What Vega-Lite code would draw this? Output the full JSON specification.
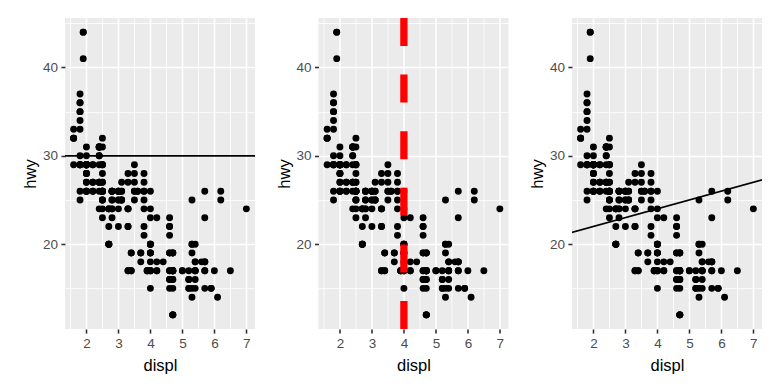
{
  "$schema": "https://vega.github.io/schema/vega-lite/v6.json",
  "background": "white",
  "padding": {"left": 22, "top": 14, "right": 18, "bottom": 5},
  "datasets": {
    "mpg": [
      {"displ":1.8,"hwy":29},{"displ":1.8,"hwy":29},{"displ":2,"hwy":31},{"displ":2,"hwy":30},{"displ":2.8,"hwy":26},{"displ":2.8,"hwy":26},{"displ":3.1,"hwy":27},{"displ":1.8,"hwy":26},{"displ":1.8,"hwy":25},{"displ":2,"hwy":28},{"displ":2,"hwy":27},{"displ":2.8,"hwy":25},{"displ":2.8,"hwy":25},{"displ":3.1,"hwy":25},{"displ":3.1,"hwy":25},{"displ":2.8,"hwy":24},{"displ":3.1,"hwy":25},{"displ":4.2,"hwy":23},
      {"displ":5.3,"hwy":20},{"displ":5.3,"hwy":15},{"displ":5.3,"hwy":20},{"displ":5.7,"hwy":17},{"displ":6,"hwy":17},{"displ":5.7,"hwy":26},{"displ":5.7,"hwy":23},{"displ":6.2,"hwy":26},{"displ":6.2,"hwy":25},{"displ":7,"hwy":24},{"displ":5.3,"hwy":19},{"displ":5.3,"hwy":14},{"displ":5.7,"hwy":15},{"displ":6.5,"hwy":17},{"displ":2.4,"hwy":27},{"displ":2.4,"hwy":30},{"displ":3.1,"hwy":26},{"displ":3.5,"hwy":29},{"displ":3.6,"hwy":26},
      {"displ":2.4,"hwy":24},{"displ":3,"hwy":24},{"displ":3.3,"hwy":22},{"displ":3.3,"hwy":22},{"displ":3.3,"hwy":24},{"displ":3.3,"hwy":24},{"displ":3.3,"hwy":24},{"displ":3.8,"hwy":22},{"displ":3.8,"hwy":21},{"displ":3.8,"hwy":24},{"displ":4,"hwy":23},{"displ":3.7,"hwy":19},{"displ":3.7,"hwy":18},{"displ":3.9,"hwy":17},{"displ":3.9,"hwy":17},{"displ":4.7,"hwy":19},{"displ":4.7,"hwy":19},{"displ":4.7,"hwy":12},{"displ":5.2,"hwy":17},{"displ":5.2,"hwy":15},{"displ":3.9,"hwy":17},{"displ":4.7,"hwy":17},{"displ":4.7,"hwy":12},{"displ":4.7,"hwy":17},{"displ":5.2,"hwy":16},{"displ":5.7,"hwy":18},{"displ":5.9,"hwy":15},{"displ":4.7,"hwy":17},{"displ":4.7,"hwy":16},{"displ":4.7,"hwy":16},{"displ":4.7,"hwy":12},{"displ":4.7,"hwy":17},{"displ":5.2,"hwy":15},{"displ":5.2,"hwy":16},{"displ":5.7,"hwy":17},{"displ":5.9,"hwy":15},
      {"displ":4.6,"hwy":17},{"displ":5.4,"hwy":17},{"displ":5.4,"hwy":18},{"displ":4,"hwy":17},{"displ":4,"hwy":19},{"displ":4,"hwy":17},{"displ":4,"hwy":19},{"displ":4.6,"hwy":19},{"displ":5,"hwy":17},{"displ":4.2,"hwy":17},{"displ":4.2,"hwy":17},{"displ":4.6,"hwy":16},{"displ":4.6,"hwy":16},{"displ":4.6,"hwy":17},{"displ":5.4,"hwy":15},{"displ":5.4,"hwy":17},{"displ":3.8,"hwy":26},{"displ":3.8,"hwy":25},{"displ":4,"hwy":26},{"displ":4,"hwy":24},{"displ":4.6,"hwy":21},{"displ":4.6,"hwy":22},{"displ":4.6,"hwy":23},{"displ":4.6,"hwy":22},{"displ":5.4,"hwy":20},
      {"displ":1.6,"hwy":33},{"displ":1.6,"hwy":32},{"displ":1.6,"hwy":32},{"displ":1.6,"hwy":29},{"displ":1.6,"hwy":32},{"displ":1.8,"hwy":34},{"displ":1.8,"hwy":36},{"displ":1.8,"hwy":36},{"displ":2,"hwy":29},
      {"displ":2.4,"hwy":26},{"displ":2.4,"hwy":27},{"displ":2.4,"hwy":30},{"displ":2.4,"hwy":31},{"displ":2.5,"hwy":26},{"displ":2.5,"hwy":26},{"displ":3.3,"hwy":28},{"displ":2,"hwy":26},{"displ":2,"hwy":29},{"displ":2,"hwy":28},{"displ":2,"hwy":27},{"displ":2.7,"hwy":24},{"displ":2.7,"hwy":24},{"displ":2.7,"hwy":24},
      {"displ":3,"hwy":22},{"displ":3.7,"hwy":19},{"displ":4,"hwy":20},{"displ":4.7,"hwy":17},{"displ":4.7,"hwy":12},{"displ":4.7,"hwy":19},{"displ":5.7,"hwy":18},{"displ":6.1,"hwy":14},
      {"displ":4,"hwy":15},{"displ":4.2,"hwy":18},{"displ":4.4,"hwy":18},{"displ":4.6,"hwy":15},
      {"displ":5.4,"hwy":17},{"displ":5.4,"hwy":16},{"displ":5.4,"hwy":18},
      {"displ":4,"hwy":17},{"displ":4,"hwy":19},{"displ":4.6,"hwy":19},{"displ":5,"hwy":17},
      {"displ":2.4,"hwy":29},{"displ":2.4,"hwy":27},{"displ":2.5,"hwy":31},{"displ":2.5,"hwy":32},{"displ":3.5,"hwy":27},{"displ":3.5,"hwy":26},{"displ":3.5,"hwy":26},{"displ":3,"hwy":25},{"displ":3,"hwy":25},{"displ":3.5,"hwy":25},{"displ":3.3,"hwy":17},{"displ":3.3,"hwy":17},{"displ":4,"hwy":20},{"displ":5.6,"hwy":18},
      {"displ":3.1,"hwy":26},{"displ":3.8,"hwy":26},{"displ":3.8,"hwy":27},{"displ":3.8,"hwy":28},{"displ":5.3,"hwy":25},
      {"displ":2.5,"hwy":25},{"displ":2.5,"hwy":24},{"displ":2.5,"hwy":27},{"displ":2.5,"hwy":25},{"displ":2.5,"hwy":26},{"displ":2.5,"hwy":23},{"displ":2.5,"hwy":26},{"displ":2.5,"hwy":26},{"displ":2.2,"hwy":26},{"displ":2.2,"hwy":26},{"displ":2.5,"hwy":26},{"displ":2.5,"hwy":26},{"displ":2.5,"hwy":27},{"displ":2.5,"hwy":25},
      {"displ":2.7,"hwy":20},{"displ":2.7,"hwy":20},{"displ":3.4,"hwy":19},{"displ":3.4,"hwy":17},{"displ":4,"hwy":20},{"displ":4.7,"hwy":17},{"displ":2.2,"hwy":29},{"displ":2.2,"hwy":27},{"displ":2.4,"hwy":31},{"displ":2.4,"hwy":31},{"displ":3,"hwy":26},{"displ":3,"hwy":26},{"displ":3.5,"hwy":28},{"displ":2.2,"hwy":27},{"displ":2.2,"hwy":29},{"displ":2.4,"hwy":31},{"displ":2.4,"hwy":31},{"displ":3,"hwy":26},{"displ":3,"hwy":26},{"displ":3.3,"hwy":27},{"displ":1.8,"hwy":30},{"displ":1.8,"hwy":33},{"displ":1.8,"hwy":35},{"displ":1.8,"hwy":37},{"displ":1.8,"hwy":35},{"displ":4.7,"hwy":15},{"displ":5.7,"hwy":18},{"displ":2.7,"hwy":20},{"displ":2.7,"hwy":20},{"displ":2.7,"hwy":22},{"displ":3.4,"hwy":17},{"displ":3.4,"hwy":19},{"displ":4,"hwy":18},{"displ":4,"hwy":20},
      {"displ":2,"hwy":29},{"displ":2,"hwy":26},{"displ":2,"hwy":29},{"displ":2,"hwy":29},{"displ":2.8,"hwy":24},{"displ":1.9,"hwy":44},{"displ":2,"hwy":29},{"displ":2,"hwy":26},{"displ":2,"hwy":29},{"displ":2,"hwy":29},{"displ":2.5,"hwy":29},{"displ":2.5,"hwy":29},{"displ":2.8,"hwy":23},{"displ":1.9,"hwy":44},{"displ":1.9,"hwy":41},{"displ":2,"hwy":29},{"displ":2,"hwy":26},{"displ":2.5,"hwy":28},{"displ":2.5,"hwy":29},{"displ":1.8,"hwy":29},{"displ":1.8,"hwy":29},{"displ":2,"hwy":28},{"displ":2,"hwy":29},{"displ":2.8,"hwy":26},{"displ":2.8,"hwy":26},{"displ":3.6,"hwy":26}
    ],
    "hline": [{"hwy": 30}],
    "vline": [{"displ": 4, "lo": 10.4, "hi": 45.6}],
    "abline": [{"x1": 1, "y1": 21, "x2": 8, "y2": 28}]
  },
  "config": {
    "view": {"fill": "#EBEBEB", "stroke": null},
    "font": "Liberation Sans",
    "axis": {
      "domain": false,
      "gridColor": "#FFFFFF",
      "tickColor": "#333333",
      "tickWidth": 1.6,
      "tickSize": 4.1,
      "labelColor": "#4D4D4D",
      "labelFont": "Liberation Sans",
      "labelFontSize": 13.5,
      "labelPadding": 3.3,
      "labelOverlap": false,
      "labelFlush": false,
      "titleFont": "Liberation Sans",
      "titleFontSize": 16.5,
      "titleFontWeight": "normal",
      "titleColor": "#000000"
    },
    "axisX": {"titlePadding": 8},
    "axisY": {"titlePadding": 4}
  },
  "hconcat": [
    {
      "width": 190, "height": 311,
      "layer": [
        {
          "data": {"name": "mpg"},
          "mark": {"type": "circle", "size": 48, "opacity": 1, "color": "#000000"},
          "encoding": {
            "x": {"field": "displ", "type": "quantitative", "title": "displ",
              "scale": {"domain": [1.33, 7.27], "nice": false, "zero": false},
              "axis": {"values": [1.5,2,2.5,3,3.5,4,4.5,5,5.5,6,6.5,7], "labelExpr": "datum.value % 1 === 0 ? format(datum.value, 'd') : ''",
                "gridWidth": {"condition": {"test": "datum.value % 1 === 0", "value": 1.6}, "value": 0.8},
                "tickOpacity": {"condition": {"test": "datum.value % 1 === 0", "value": 1}, "value": 0}}},
            "y": {"field": "hwy", "type": "quantitative", "title": "hwy",
              "scale": {"domain": [10.4, 45.6], "nice": false, "zero": false},
              "axis": {"values": [15,20,25,30,35,40,45], "labelExpr": "datum.value % 10 === 0 ? format(datum.value, 'd') : ''",
                "gridWidth": {"condition": {"test": "datum.value % 10 === 0", "value": 1.6}, "value": 0.8},
                "tickOpacity": {"condition": {"test": "datum.value % 10 === 0", "value": 1}, "value": 0}}}
          }
        },
        {
          "data": {"name": "hline"},
          "mark": {"type": "rule", "color": "#000000", "strokeWidth": 1.6},
          "encoding": {
            "y": {"field": "hwy", "type": "quantitative", "title": "hwy",
              "axis": {"values": [15,20,25,30,35,40,45], "labelExpr": "datum.value % 10 === 0 ? format(datum.value, 'd') : ''",
                "gridWidth": {"condition": {"test": "datum.value % 10 === 0", "value": 1.6}, "value": 0.8},
                "tickOpacity": {"condition": {"test": "datum.value % 10 === 0", "value": 1}, "value": 0}}}
          }
        }
      ]
    },
    {
      "width": 190, "height": 311,
      "layer": [
        {
          "data": {"name": "mpg"},
          "mark": {"type": "circle", "size": 48, "opacity": 1, "color": "#000000"},
          "encoding": {
            "x": {"field": "displ", "type": "quantitative", "title": "displ",
              "scale": {"domain": [1.33, 7.27], "nice": false, "zero": false},
              "axis": {"values": [1.5,2,2.5,3,3.5,4,4.5,5,5.5,6,6.5,7], "labelExpr": "datum.value % 1 === 0 ? format(datum.value, 'd') : ''",
                "gridWidth": {"condition": {"test": "datum.value % 1 === 0", "value": 1.6}, "value": 0.8},
                "tickOpacity": {"condition": {"test": "datum.value % 1 === 0", "value": 1}, "value": 0}}},
            "y": {"field": "hwy", "type": "quantitative", "title": "hwy",
              "scale": {"domain": [10.4, 45.6], "nice": false, "zero": false},
              "axis": {"values": [15,20,25,30,35,40,45], "labelExpr": "datum.value % 10 === 0 ? format(datum.value, 'd') : ''",
                "gridWidth": {"condition": {"test": "datum.value % 10 === 0", "value": 1.6}, "value": 0.8},
                "tickOpacity": {"condition": {"test": "datum.value % 10 === 0", "value": 1}, "value": 0}}}
          }
        },
        {
          "data": {"name": "vline"},
          "mark": {"type": "rule", "color": "#FF0000", "strokeWidth": 7.3, "strokeDash": [28, 28.6]},
          "encoding": {
            "x": {"field": "displ", "type": "quantitative", "title": "displ",
              "axis": {"values": [1.5,2,2.5,3,3.5,4,4.5,5,5.5,6,6.5,7], "labelExpr": "datum.value % 1 === 0 ? format(datum.value, 'd') : ''",
                "gridWidth": {"condition": {"test": "datum.value % 1 === 0", "value": 1.6}, "value": 0.8},
                "tickOpacity": {"condition": {"test": "datum.value % 1 === 0", "value": 1}, "value": 0}}},
            "y": {"field": "lo", "type": "quantitative", "title": "hwy",
              "axis": {"values": [15,20,25,30,35,40,45], "labelExpr": "datum.value % 10 === 0 ? format(datum.value, 'd') : ''",
                "gridWidth": {"condition": {"test": "datum.value % 10 === 0", "value": 1.6}, "value": 0.8},
                "tickOpacity": {"condition": {"test": "datum.value % 10 === 0", "value": 1}, "value": 0}}},
            "y2": {"field": "hi"}
          }
        }
      ]
    },
    {
      "width": 190, "height": 311,
      "layer": [
        {
          "data": {"name": "mpg"},
          "mark": {"type": "circle", "size": 48, "opacity": 1, "color": "#000000"},
          "encoding": {
            "x": {"field": "displ", "type": "quantitative", "title": "displ",
              "scale": {"domain": [1.33, 7.27], "nice": false, "zero": false},
              "axis": {"values": [1.5,2,2.5,3,3.5,4,4.5,5,5.5,6,6.5,7], "labelExpr": "datum.value % 1 === 0 ? format(datum.value, 'd') : ''",
                "gridWidth": {"condition": {"test": "datum.value % 1 === 0", "value": 1.6}, "value": 0.8},
                "tickOpacity": {"condition": {"test": "datum.value % 1 === 0", "value": 1}, "value": 0}}},
            "y": {"field": "hwy", "type": "quantitative", "title": "hwy",
              "scale": {"domain": [10.4, 45.6], "nice": false, "zero": false},
              "axis": {"values": [15,20,25,30,35,40,45], "labelExpr": "datum.value % 10 === 0 ? format(datum.value, 'd') : ''",
                "gridWidth": {"condition": {"test": "datum.value % 10 === 0", "value": 1.6}, "value": 0.8},
                "tickOpacity": {"condition": {"test": "datum.value % 10 === 0", "value": 1}, "value": 0}}}
          }
        },
        {
          "data": {"name": "abline"},
          "mark": {"type": "rule", "color": "#000000", "strokeWidth": 1.6, "clip": true},
          "encoding": {
            "x": {"field": "x1", "type": "quantitative", "title": "displ",
              "axis": {"values": [1.5,2,2.5,3,3.5,4,4.5,5,5.5,6,6.5,7], "labelExpr": "datum.value % 1 === 0 ? format(datum.value, 'd') : ''",
                "gridWidth": {"condition": {"test": "datum.value % 1 === 0", "value": 1.6}, "value": 0.8},
                "tickOpacity": {"condition": {"test": "datum.value % 1 === 0", "value": 1}, "value": 0}}},
            "y": {"field": "y1", "type": "quantitative", "title": "hwy",
              "axis": {"values": [15,20,25,30,35,40,45], "labelExpr": "datum.value % 10 === 0 ? format(datum.value, 'd') : ''",
                "gridWidth": {"condition": {"test": "datum.value % 10 === 0", "value": 1.6}, "value": 0.8},
                "tickOpacity": {"condition": {"test": "datum.value % 10 === 0", "value": 1}, "value": 0}}},
            "x2": {"field": "x2"},
            "y2": {"field": "y2"}
          }
        }
      ]
    }
  ],
  "spacing": 63.5,
  "bounds": "flush"
}
